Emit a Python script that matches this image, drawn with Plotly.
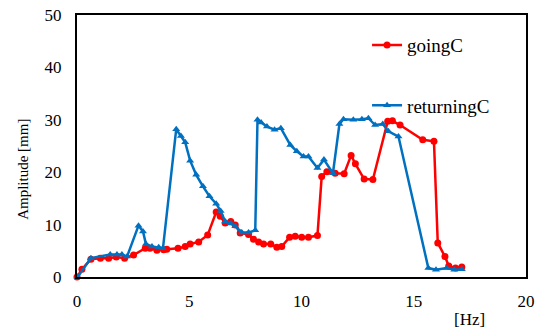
import plotly.graph_objects as go

going_x = [0.0, 0.22, 0.62, 1.04, 1.41, 1.75, 2.12, 2.52, 3.04, 3.25, 3.56, 3.86, 4.0, 4.5, 4.82, 5.04,
           5.42, 5.82, 6.2, 6.38, 6.6, 6.85, 7.05, 7.27, 7.64, 7.86, 8.09, 8.31, 8.63, 8.9, 9.12,
           9.47, 9.72, 10.01, 10.31, 10.71, 10.9, 11.13, 11.5, 11.9, 12.21, 12.4, 12.79, 13.18,
           13.84, 14.05, 14.39, 15.4, 15.9, 16.07, 16.39, 16.56, 16.86, 17.14]
going_y = [0.0, 1.5, 3.4, 3.6, 3.6, 3.8, 3.6, 4.2, 5.5, 5.5, 5.1, 5.2, 5.3, 5.5, 5.8, 6.3,
           6.7, 8.0, 12.4, 11.6, 10.3, 10.6, 9.9, 8.4, 8.1, 7.2, 6.7, 6.3, 6.3, 5.7, 5.8,
           7.6, 7.8, 7.6, 7.6, 7.9, 19.2, 20.1, 19.8, 19.7, 23.2, 21.6, 18.7, 18.6,
           29.7, 29.8, 29.0, 26.2, 25.9, 6.5, 3.9, 2.1, 1.7, 1.9]

ret_x = [0.03, 0.62, 1.48, 1.78, 2.0, 2.23, 2.74, 2.94, 3.07, 3.34, 3.64, 3.83, 4.42, 4.63, 4.82,
         5.04, 5.31, 5.61, 5.9, 6.2, 6.4, 6.6, 6.85, 7.05, 7.34, 7.64, 7.94, 8.04, 8.2, 8.46, 8.8,
         9.08, 9.5, 9.79, 10.09, 10.31, 10.71, 11.0, 11.4, 11.69, 11.87, 12.31, 12.69, 12.98,
         13.28, 13.62, 13.87, 14.32, 15.65, 15.99, 16.47, 16.81, 17.14]
ret_y = [0.0, 3.6, 4.3, 4.3, 4.3, 3.9, 9.8, 8.7, 6.3, 5.8, 5.7, 5.5, 28.2, 26.9, 25.7,
         22.2, 19.5, 17.3, 15.4, 14.0, 12.6, 10.6, 10.2, 9.7, 8.5, 8.5, 8.9, 30.0, 29.5, 28.7, 28.1,
         28.4, 25.2, 24.0, 23.0, 23.0, 20.8, 22.4, 19.8, 29.2, 30.1, 30.0, 30.1, 30.3,
         29.0, 29.2, 27.8, 26.8, 1.7, 1.4, 1.7, 1.4, 1.5]

x_ticks = [0, 5, 10, 15, 20]
y_ticks = [0, 10, 20, 30, 40, 50]

RED = "#FF0000"
BLUE = "#0070C0"
FONT = "serif"

fig = go.Figure()
fig.add_trace(go.Scatter(x=going_x, y=going_y, name="goingC", mode="lines+markers",
                         line=dict(color=RED, width=2.5),
                         marker=dict(symbol="circle", size=7, color=RED),
                         cliponaxis=False, legend="legend"))
fig.add_trace(go.Scatter(x=ret_x, y=ret_y, name="returningC", mode="lines+markers",
                         line=dict(color=BLUE, width=2.5),
                         marker=dict(symbol="triangle-up", size=7, color=BLUE),
                         cliponaxis=False, legend="legend2"))

axis_common = dict(showline=True, linecolor="black", linewidth=2, mirror=True,
                   showgrid=False, zeroline=False, ticks="", automargin=False,
                   tickfont=dict(family=FONT, size=17, color="black"))

fig.update_layout(
    width=540, height=332,
    margin=dict(l=77, r=14, t=15, b=55),
    paper_bgcolor="white", plot_bgcolor="white",
    font=dict(family=FONT, color="black"),
    showlegend=True,
    xaxis=dict(range=[0, 20], tickvals=x_ticks, ticklabelstandoff=8, **axis_common),
    yaxis=dict(range=[0, 50], tickvals=y_ticks, ticklabelstandoff=10, **axis_common),
    legend=dict(x=0.646, y=0.885, xanchor="left", yanchor="middle",
                bgcolor="rgba(0,0,0,0)", font=dict(family=FONT, size=19, color="black")),
    legend2=dict(x=0.646, y=0.655, xanchor="left", yanchor="middle",
                 bgcolor="rgba(0,0,0,0)", font=dict(family=FONT, size=19, color="black")),
    annotations=[
        dict(text="Amplitude [mm]", xref="paper", yref="paper", x=-0.122, y=0.41,
             xanchor="center", yanchor="middle", textangle=-90, showarrow=False,
             font=dict(family=FONT, size=15, color="black")),
        dict(text="[Hz]", xref="paper", yref="paper", x=0.875, y=-0.162,
             xanchor="center", yanchor="middle", showarrow=False,
             font=dict(family=FONT, size=17, color="black")),
    ],
)

fig.write_html("out.html", config={"displayModeBar": False},
               post_script="document.body.style.margin='0';")
